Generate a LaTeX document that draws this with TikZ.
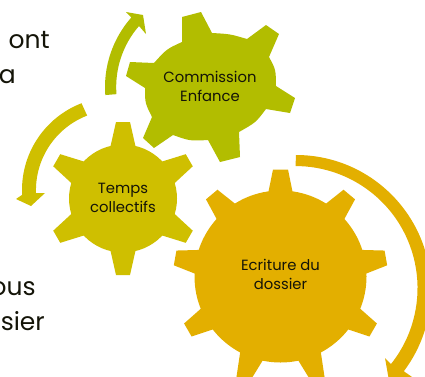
\documentclass[tikz,border=0pt]{standalone}
\usepackage{fontspec}
\setmainfont{Poppins}
\definecolor{gearA}{HTML}{B2BD00}
\definecolor{gearB}{HTML}{CFBF00}
\definecolor{gearC}{HTML}{E3AF00}
\definecolor{inkc}{HTML}{141408}
\tikzset{
  gearlabel/.style={align=center,text=inkc,font=\fontsize{14.8}{19}\selectfont,inner sep=0pt},
  sidetext/.style={anchor=base east,text=inkc,font=\fontsize{25}{30}\selectfont,inner sep=0pt},
}
\newcommand{\geartooth}[7]{% cx cy angle rbase halfbase rtip halftip
  \fill[rotate around={#3:(#1,-#2)}] (#1+#4,-#2-#5) -- (#1+#6,-#2-#7) -- (#1+#6,-#2+#7) -- (#1+#4,-#2+#5) -- cycle;}
\begin{document}
\begin{tikzpicture}[x=1pt,y=1pt]
\useasboundingbox (0,0) rectangle (425,-376);
\clip (0,0) rectangle (425,-376);
% side text
\node[sidetext] (t1) at (50,-48) {i\hspace{5pt} ont};
\node[sidetext] (t2) at (16,-83) {a};
\node[sidetext] (t3) at (36,-295) {ous};
\node[sidetext] (t4) at (45,-330) {ssier};
% gear A
\fill[gearA] (182,-42) -- (182,-17) -- (201,-12) -- (212,-33)
  .. controls (230,-34) .. (247,-39) -- (266,-25) -- (279,-34) -- (269,-57)
  .. controls (275.8,-69.5) .. (276,-86) -- (295,-98) -- (290,-113) -- (266,-109)
  .. controls (255.8,-122.5) .. (239,-132) -- (240,-157) -- (220,-162) -- (208,-140)
  .. controls (190,-141) .. (173,-135) -- (154,-148) -- (143,-138) -- (152,-117)
  .. controls (145,-103) .. (145,-88) -- (126,-76) -- (130,-62) -- (154,-63)
  .. controls (166.6,-49) .. (182,-42) -- cycle;
% gear B
\begin{scope}[gearB]
\fill (123,-198.5) circle[radius=54];
\foreach \a in {90,30,-30,-90,-150,150} {\geartooth{123}{198.5}{\a}{50}{13}{76.5}{7}}
\end{scope}
% gear C
\begin{scope}[gearC]
\fill (280.5,-276.5) circle[radius=86];
\foreach \a in {90,50,10,-30,-150,170,130} {\geartooth{280.5}{276.5}{\a}{80}{13}{107}{7.5}}
\foreach \a in {-70,-110} {\geartooth{280.5}{276.5}{\a}{80}{13}{112}{6.5}}
\end{scope}
% arrows
\coordinate (ca) at (210,-87);
\coordinate (cb) at (115,-190);
\coordinate (cc) at (296,-290);
\fill[gearA] (ca) ++(184.4:105) arc[start angle=184.4,end angle=138.5,radius=105]
  -- (126,-12) -- (143,-15) -- (146,-34) -- (139,-26)
  arc[start angle=139,end angle=184.4,radius=93] -- cycle;
\fill[gearB] (cb) ++(111.1:93) arc[start angle=111.1,end angle=183,radius=93]
  -- (16,-199) -- (31,-206) -- (45,-193) -- (36,-193)
  arc[start angle=182,end angle=111.1,radius=80] -- cycle;
\fill[gearC] (cc) ++(90:135) arc[start angle=90,end angle=-37,radius=135]
  -- (425,-386) -- (391,-392) -- (385,-358) -- (391,-364)
  arc[start angle=-38.5,end angle=90,radius=122] -- cycle;
% labels
\node[gearlabel] (g1) at (210,-86.5) {Commission\\Enfance};
\node[gearlabel] (g2) at (123,-197.5) {Temps\\collectifs};
\node[gearlabel] (g3) at (280.5,-274) {Ecriture du\\dossier};
\end{tikzpicture}
\end{document}
